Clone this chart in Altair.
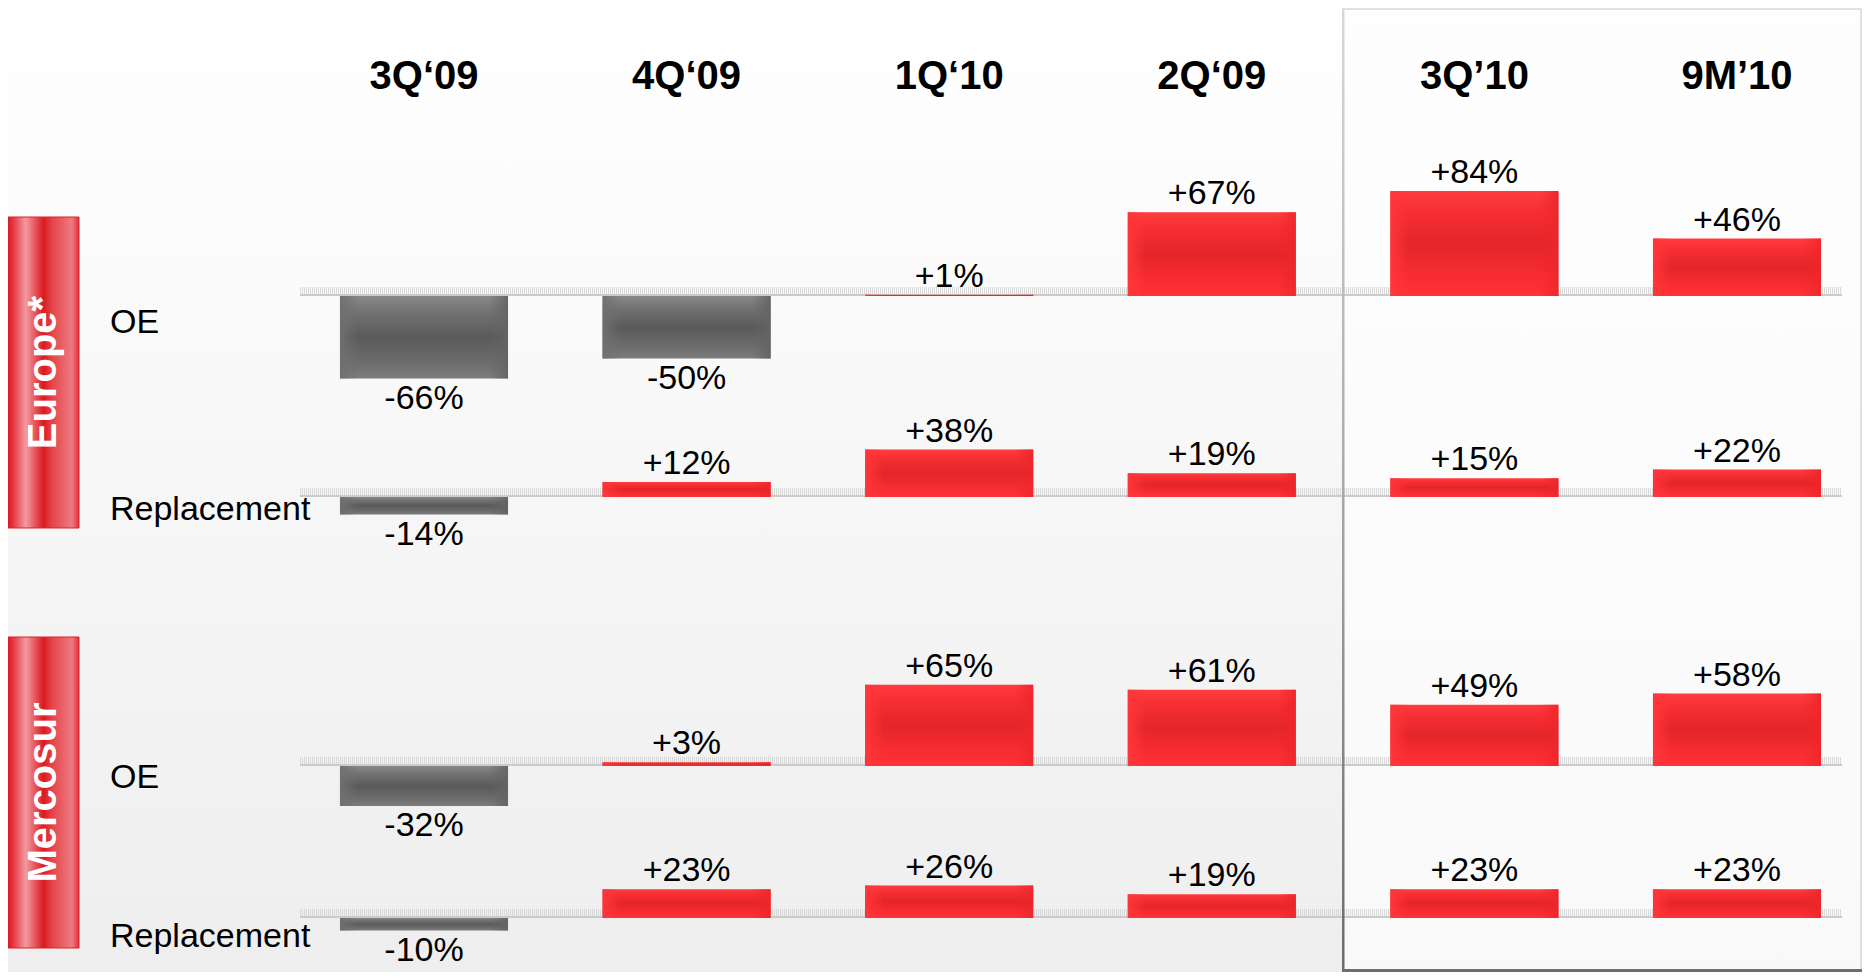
import altair as alt
import pandas as pd

# ---------------- data ----------------
periods = ["3Q‘09", "4Q‘09", "1Q‘10", "2Q‘09", "3Q’10", "9M’10"]
regions = ["Europe*", "Mercosur"]
segments = ["OE", "Replacement"]

europe_oe = [-66, -50, 1, 67, 84, 46]
europe_replacement = [-14, 12, 38, 19, 15, 22]
mercosur_oe = [-32, 3, 65, 61, 49, 58]
mercosur_replacement = [-10, 23, 26, 19, 23, 23]

series = {
    ("Europe*", "OE"): europe_oe,
    ("Europe*", "Replacement"): europe_replacement,
    ("Mercosur", "OE"): mercosur_oe,
    ("Mercosur", "Replacement"): mercosur_replacement,
}

# ---------------- layout (not data) ----------------
W, H = 1854, 964
K = 1.25  # pixels per percentage point
ROW_BASE_PX = {
    ("Europe*", "OE"): 288,
    ("Europe*", "Replacement"): 489,
    ("Mercosur", "OE"): 758,
    ("Mercosur", "Replacement"): 910,
}
ROW_LABEL_PX = {
    ("Europe*", "OE"): 315,
    ("Europe*", "Replacement"): 502,
    ("Mercosur", "OE"): 770,
    ("Mercosur", "Replacement"): 929,
}
FONT = "Liberation Sans"

rows = []
for (reg, seg), vals in series.items():
    for p, v in zip(periods, vals):
        rows.append(dict(region=reg, segment=seg, period=p, value=v,
                         level=(H - ROW_BASE_PX[(reg, seg)]) / K))
df = pd.DataFrame(rows)

rows_df = pd.DataFrame([
    dict(region=r, segment=s,
         level=(H - ROW_BASE_PX[(r, s)]) / K,
         label_level=(H - ROW_LABEL_PX[(r, s)]) / K)
    for (r, s) in series
])
head_df = pd.DataFrame({"period": periods})
one = pd.DataFrame({"k": [0]})

xscale = alt.Scale(type="band", domain=periods, range=[284.7, 1860.3],
                   paddingInner=0.36, paddingOuter=0.18)
yscale = alt.Scale(domain=[0, H / K], nice=False, zero=False)

X = alt.X("period:N", scale=xscale, axis=None)


def grad(stops, horizontal=False):
    return {
        "gradient": "linear",
        "x1": 0, "y1": 0,
        "x2": 1 if horizontal else 0,
        "y2": 0 if horizontal else 1,
        "stops": [{"offset": o, "color": c} for o, c in stops],
    }


bg = alt.Chart(one).mark_rect(
    fill=grad([(0, "#ffffff"), (0.3, "#fafafa"), (1, "#eeeeee")])
).encode(x=alt.value(0), x2=alt.value(W), y=alt.value(0), y2=alt.value(H))

frame = alt.Chart(one).mark_rect(
    fill=grad([(0, "#fefefe"), (1, "#f9f9f9")]),
    stroke="#d8d8d8", strokeWidth=1.5
).encode(x=alt.value(1335), x2=alt.value(1853), y=alt.value(1), y2=alt.value(962))

frame_left = alt.Chart(one).mark_rect(
    fill=grad([(0, "#d8d8d8"), (0.5, "#a8a8a8"), (1, "#6a6a6a")])
).encode(x=alt.value(1334), x2=alt.value(1336.5), y=alt.value(1), y2=alt.value(964))

frame_bottom = alt.Chart(one).mark_rect(fill="#6e6e6e").encode(
    x=alt.value(1334), x2=alt.value(1854), y=alt.value(961), y2=alt.value(964))

base_band = alt.Chart(rows_df).mark_rule(
    strokeWidth=8, color="#d9d9d9", strokeDash=[1, 1], yOffset=-5
).encode(x=alt.value(292), x2=alt.value(1834),
         y=alt.Y("level:Q", scale=yscale, axis=None))
base_line = alt.Chart(rows_df).mark_rule(
    strokeWidth=2, color="#cbcbcb", yOffset=-1
).encode(x=alt.value(292), x2=alt.value(1834),
         y=alt.Y("level:Q", scale=yscale, axis=None))

box_fill = grad([(0, "#e0161e"), (0.07, "#e63640"), (0.25, "#f29aa0"),
                 (0.5, "#dc1a20"), (0.62, "#e4444c"), (0.9, "#ee7a80"),
                 (1, "#e23038")], horizontal=True)


def region_box(name, y0, y1):
    rect = alt.Chart(one).mark_rect(fill=box_fill, stroke="#d9222a", strokeWidth=1).encode(
        x=alt.value(0), x2=alt.value(71), y=alt.value(y0), y2=alt.value(y1))
    txt = alt.Chart(one).mark_text(
        text=name, angle=270, color="white", font="Arial, " + FONT,
        fontWeight="bold", fontSize=40, align="center", baseline="middle"
    ).encode(x=alt.value(35.5), y=alt.value((y0 + y1) / 2))
    return rect + txt


eu_box = region_box("Europe*", 209, 520)
me_box = region_box("Mercosur", 629, 940)

row_labels = alt.Chart(rows_df).mark_text(
    align="left", baseline="middle", font=FONT, fontSize=34, color="#000000"
).encode(x=alt.value(102), y=alt.Y("label_level:Q", scale=yscale, axis=None),
         text="segment:N")

bars_base = alt.Chart(df).transform_calculate(
    top="datum.level + datum.value",
    label="(datum.value > 0 ? '+' : '') + datum.value + '%'",
)

Y = alt.Y("level:Q", scale=yscale, axis=None)
Y2 = alt.Y2("top:Q")

red_v = grad([(0, "#ff3c40"), (0.18, "#f72f33"), (0.5, "#e3252a"),
              (0.82, "#f82d31"), (1, "#ff3236")])
red_h = grad([(0, "rgba(255,54,58,0.95)"), (0.11, "rgba(255,54,58,0)"),
              (0.89, "rgba(238,38,42,0)"), (1, "rgba(238,38,42,0.9)")], horizontal=True)
gray_v = grad([(0, "#888888"), (0.2, "#727272"), (0.5, "#5a5a5a"),
               (0.8, "#6c6c6c"), (1, "#7c7c7c")])
gray_h = grad([(0, "rgba(112,112,112,0.95)"), (0.11, "rgba(112,112,112,0)"),
               (0.89, "rgba(100,100,100,0)"), (1, "rgba(100,100,100,0.95)")], horizontal=True)

pos = bars_base.transform_filter("datum.value > 0")
neg = bars_base.transform_filter("datum.value < 0")

red_bars = pos.mark_bar(fill=red_v).encode(x=X, y=Y, y2=Y2)
red_sides = pos.mark_bar(fill=red_h).encode(x=X, y=Y, y2=Y2)
gray_bars = neg.mark_bar(fill=gray_v).encode(x=X, y=Y, y2=Y2)
gray_sides = neg.mark_bar(fill=gray_h).encode(x=X, y=Y, y2=Y2)

pos_labels = pos.mark_text(
    baseline="alphabetic", dy=-8, font=FONT, fontSize=34, color="#000000"
).encode(x=X, y=alt.Y("top:Q", scale=yscale, axis=None), text="label:N")
neg_labels = neg.mark_text(
    baseline="top", dy=3, font=FONT, fontSize=34, color="#000000"
).encode(x=X, y=alt.Y("top:Q", scale=yscale, axis=None), text="label:N")

headers = alt.Chart(head_df).mark_text(
    baseline="alphabetic", font=FONT, fontSize=40, fontWeight="bold", color="#000000"
).encode(x=X, y=alt.value(81), text="period:N")

chart = alt.layer(
    bg, frame, base_band, base_line, frame_left, frame_bottom,
    eu_box, me_box, row_labels,
    red_bars, red_sides, gray_bars, gray_sides,
    pos_labels, neg_labels, headers,
).properties(
    width=W, height=H, padding=0,
    autosize=alt.AutoSizeParams(type="none"),
).configure_view(strokeWidth=0).configure(background="white")

chart.save("out.html", embed_options={"renderer": "svg", "actions": False})
